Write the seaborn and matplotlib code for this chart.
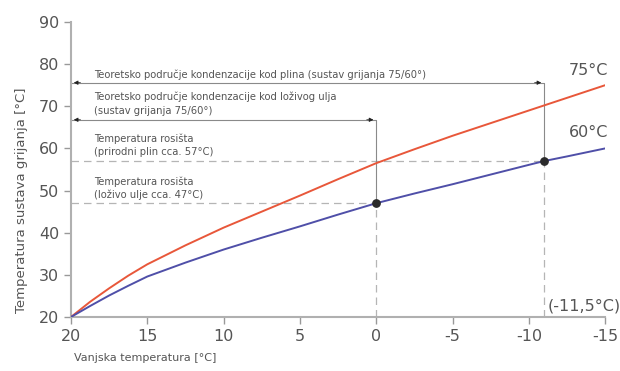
import matplotlib
matplotlib.use('Agg')
import matplotlib.pyplot as plt
import seaborn as sns
import pandas as pd

# vanjska temperatura [°C]
vanjska = [20, 18.75, 17.5, 16.25, 15, 12.5, 10, 7.5, 5, 2.5, 0, -2.5, -5, -7.5, -10, -11, -12.5, -15]
# temperatura polaza 75/60
sustav_75 = [20, 23.6, 26.8, 29.8, 32.5, 37.0, 41.2, 45.0, 48.8, 52.7, 56.5, 59.8, 63.0, 66.0, 69.0, 70.2, 72.0, 75.0]
sustav_60 = [20, 22.6, 25.1, 27.4, 29.6, 32.9, 36.0, 38.8, 41.5, 44.3, 47.0, 49.3, 51.5, 53.8, 56.1, 57.0, 58.1, 60.0]

# tocke rosista
rosiste_x = [0, -11]
rosiste_y = [47, 57]

# granice podrucja (strelice)
strelica_plin = 75.6
strelica_ulje = 66.8

x_ticks = [20, 15, 10, 5, 0, -5, -10, -15]
y_ticks = [20, 30, 40, 50, 60, 70, 80, 90]

crvena = '#e8573a'
plava = '#4f4fa8'
siva = '#999999'
tekst = '#555555'

df = pd.DataFrame({
    'vanjska': vanjska * 2,
    'temp': sustav_75 + sustav_60,
    'sustav': ['75'] * len(vanjska) + ['60'] * len(vanjska),
})

sns.set_style('ticks')
plt.rcParams['font.family'] = ['DejaVu Sans']
plt.rcParams['axes.unicode_minus'] = False

fig = plt.figure(figsize=(6.2, 3.71), dpi=100)
ax = fig.add_axes([0.1145, 0.1456, 0.8615, 0.7951])

sns.lineplot(data=df, x='vanjska', y='temp', hue='sustav', palette={'75': crvena, '60': plava},
             linewidth=1.4, legend=False, ax=ax, zorder=3, sort=False)

# pomocne linije
ax.plot([20, rosiste_x[1]], [rosiste_y[1]] * 2, color='#b5b5b5', lw=0.9, dashes=(6, 4), zorder=1)
ax.plot([20, rosiste_x[0]], [rosiste_y[0]] * 2, color='#b5b5b5', lw=0.9, dashes=(6, 4), zorder=1)
ax.plot([rosiste_x[0]] * 2, [20, rosiste_y[0]], color='#b5b5b5', lw=0.9, dashes=(6, 4), zorder=1)
ax.plot([rosiste_x[1]] * 2, [20, rosiste_y[1]], color='#b5b5b5', lw=0.9, dashes=(6, 4), zorder=1)
ax.plot([rosiste_x[0]] * 2, [rosiste_y[0], strelica_ulje], color='#8a8a8a', lw=0.8, zorder=1)
ax.plot([rosiste_x[1]] * 2, [rosiste_y[1], strelica_plin], color='#8a8a8a', lw=0.8, zorder=1)

ax.scatter(rosiste_x, rosiste_y, s=28, color='#2b2b2b', zorder=4)

for y_s, x_kraj in [(strelica_plin, rosiste_x[1]), (strelica_ulje, rosiste_x[0])]:
    ax.plot([20, x_kraj], [y_s, y_s], color='#8a8a8a', lw=0.8, zorder=1)
    ax.annotate('', xy=(20, y_s), xytext=(19.2, y_s),
                arrowprops=dict(arrowstyle='-|>', color='#222222', lw=0.6, mutation_scale=6))
    ax.annotate('', xy=(x_kraj, y_s), xytext=(x_kraj + 0.8, y_s),
                arrowprops=dict(arrowstyle='-|>', color='#222222', lw=0.6, mutation_scale=6))

mali = dict(fontsize=7.2, color=tekst, ha='left', va='center')
ax.text(18.5, 77.6, 'Teoretsko područje kondenzacije kod plina (sustav grijanja 75/60°)', **mali)
ax.text(18.5, 72.2, 'Teoretsko područje kondenzacije kod loživog ulja', **mali)
ax.text(18.5, 68.9, '(sustav grijanja 75/60°)', **mali)
ax.text(18.5, 62.2, 'Temperatura rosišta', **mali)
ax.text(18.5, 59.1, '(prirodni plin cca. 57°C)', **mali)
ax.text(18.5, 52.2, 'Temperatura rosišta', **mali)
ax.text(18.5, 48.9, '(loživo ulje cca. 47°C)', **mali)

ax.text(-13.9, 78.6, '75°C', fontsize=11.5, color=tekst, ha='center', va='center')
ax.text(-13.9, 63.8, '60°C', fontsize=11.5, color=tekst, ha='center', va='center')
ax.text(-11.2, 22.5, '(-11,5°C)', fontsize=11.5, color=tekst, ha='left', va='center', clip_on=False)

ax.set_xlim(20, -15)
ax.set_ylim(20, 90)
ax.set_xticks(x_ticks)
ax.set_yticks(y_ticks)
ax.tick_params(colors=siva, labelcolor=tekst, labelsize=11.5, length=5, width=1)
for s in ['left', 'bottom']:
    ax.spines[s].set_color('#b0b0b0')
    ax.spines[s].set_linewidth(1.5)
sns.despine(ax=ax)

ax.set_xlabel('Vanjska temperatura [°C]', fontsize=8, color=tekst, loc='left')
ax.xaxis.set_label_coords(0.005, -0.123)
ax.set_ylabel('Temperatura sustava grijanja [°C]', fontsize=9.5, color=tekst)
ax.yaxis.set_label_coords(-0.0805, 0.397)

fig.savefig('out.png', dpi=100)
